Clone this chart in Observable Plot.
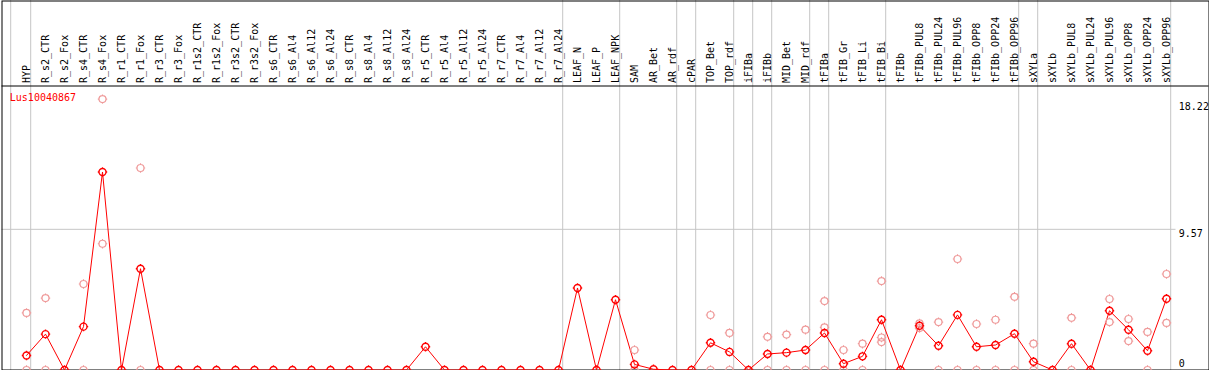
<!DOCTYPE html>
<html>
<head>
<meta charset="utf-8">
<script src="https://cdn.jsdelivr.net/npm/d3@7"></script>
<script src="https://cdn.jsdelivr.net/npm/@observablehq/plot@0.6"></script>
<style>
  html, body { margin: 0; padding: 0; background: white; }
</style>
</head>
<body>
<div id="chart"></div>
<script>
const geneId = "Lus10040867";

const categories = [
  "HYP","R_s2_CTR","R_s2_Fox","R_s4_CTR","R_s4_Fox","R_r1_CTR","R_r1_Fox","R_r3_CTR","R_r3_Fox",
  "R_r1s2_CTR","R_r1s2_Fox","R_r3s2_CTR","R_r3s2_Fox","R_s6_CTR","R_s6_Al4","R_s6_Al12","R_s6_Al24",
  "R_s8_CTR","R_s8_Al4","R_s8_Al12","R_s8_Al24","R_r5_CTR","R_r5_Al4","R_r5_Al12","R_r5_Al24",
  "R_r7_CTR","R_r7_Al4","R_r7_Al12","R_r7_Al24","LEAF_N","LEAF_P","LEAF_NPK","SAM","AR_Bet","AR_rdf",
  "cPAR","TOP_Bet","TOP_rdf","iFIBa","iFIBb","MID_Bet","MID_rdf","tFIBa","tFIB_Gr","tFIB_Li","tFIB_Bi",
  "tFIBb","tFIBb_PUL8","tFIBb_PUL24","tFIBb_PUL96","tFIBb_OPP8","tFIBb_OPP24","tFIBb_OPP96",
  "sXYLa","sXYLb","sXYLb_PUL8","sXYLb_PUL24","sXYLb_PUL96","sXYLb_OPP8","sXYLb_OPP24","sXYLb_OPP96"
];

// mean expression per sample
const meanValues = [
  0.99, 2.44, 0, 2.95, 13.47, 0, 6.89, 0, 0,
  0, 0, 0, 0, 0, 0, 0, 0,
  0, 0, 0, 0, 1.58, 0, 0, 0,
  0, 0, 0, 0, 5.58, 0, 4.78, 0.38, 0.05, 0,
  0, 1.85, 1.23, 0, 1.09, 1.18, 1.36, 2.52, 0.43, 0.93, 3.42,
  0, 3.01, 1.65, 3.75, 1.58, 1.70, 2.47,
  0.56, 0, 1.79, 0, 4.03, 2.74, 1.31, 4.85
];

// individual replicates (null = none shown)
const rep1 = [
  3.88, 4.89, null, 5.85, 18.43, null, 13.74, null, null,
  null, null, null, null, null, null, null, null,
  null, null, null, null, null, null, null, null,
  null, null, null, null, null, null, null, 1.36, null, null,
  null, 3.74, 2.52, null, 2.26, 2.41, 2.74, 4.69, 1.36, 1.79, 6.05,
  null, 3.17, 3.26, 7.55, 3.13, 3.42, 4.98,
  1.79, null, 3.55, null, 4.83, 3.47, 2.59, 6.53
];
const rep2 = [
  0, 0, null, 0, 8.59, null, 0, null, null,
  null, null, null, null, null, null, null, null,
  null, null, null, null, null, null, null, null,
  null, null, null, null, null, null, null, 0, null, null,
  null, 0, 0, null, 0, 0, 0, 2.90, 0, 0, 2.21,
  null, 2.85, 0, 0, 0, 0, 0,
  0, null, 0, null, 3.26, 1.97, 0, 3.20
];
const rep3 = [
  null, null, null, null, null, null, null, null, null,
  null, null, null, null, null, null, null, null,
  null, null, null, null, null, null, null, null,
  null, null, null, null, null, null, null, null, null, null,
  null, null, null, null, null, null, null, 0, null, null, 1.90,
  null, null, null, null, null, null, null,
  null, null, null, null, null, null, null, null
];

// group separators (drawn just right of these samples)
const groupEnds = ["HYP","R_r7_Al24","LEAF_NPK","AR_rdf","cPAR","TOP_rdf","iFIBa","iFIBb",
  "MID_rdf","tFIBa","tFIB_Bi","tFIBb_OPP96","sXYLa","sXYLb_OPP96"];
const leadingRule = ["HYP"];

const yTicksTop = [18.22, 9.57];
const yTicksBottom = [0];
const gridValues = [9.57];
const yMax = 19.32;

const rows = categories.map((c, i) => ({cat: c, mean: meanValues[i]}));
const reps = [];
categories.forEach((c, i) => {
  [rep1, rep2, rep3].forEach(r => { if (r[i] != null) reps.push({cat: c, v: r[i]}); });
});

const sun = {
  draw(ctx, size) {
    const r = Math.sqrt(size / Math.PI);
    ctx.moveTo(r, 0);
    ctx.arc(0, 0, r, 0, 2 * Math.PI);
    const t = 1.2;
    ctx.moveTo(r, 0); ctx.lineTo(r + t, 0);
    ctx.moveTo(-r, 0); ctx.lineTo(-r - t, 0);
    ctx.moveTo(0, r); ctx.lineTo(0, r + t);
    ctx.moveTo(0, -r); ctx.lineTo(0, -r - t);
  }
};

const gray = "#c6c6c6";
const mono = "DejaVu Sans Mono";

const chart = Plot.plot({
  width: 1209,
  height: 370,
  marginTop: 85.5,
  marginBottom: 0.5,
  marginLeft: 1.5,
  marginRight: 0.5,
  style: {background: "white", overflow: "visible"},
  x: {type: "point", domain: categories, range: [26.3, 1166.3], padding: 0, axis: null},
  y: {domain: [0, yMax], axis: null},
  marks: [
    Plot.ruleY(gridValues, {stroke: gray, insetRight: 33}),
    Plot.ruleX(groupEnds, {x: d => d, dx: 4.2, stroke: gray, insetTop: -85.5, insetBottom: -0.5}),
    Plot.ruleX(leadingRule, {x: d => d, dx: -15.8, stroke: gray, insetTop: -85.5, insetBottom: -0.5}),
    Plot.frame({stroke: "black", insetTop: -85}),
    Plot.ruleY([yMax], {stroke: "black"}),
    Plot.line(rows, {x: "cat", y: "mean", stroke: "#ff0000", strokeWidth: 1}),
    Plot.dot(reps, {x: "cat", y: "v", r: 3.5, symbol: sun, stroke: "#ef9a9a", strokeWidth: 1.2, fill: "none"}),
    Plot.dot(rows, {x: "cat", y: "mean", r: 3.5, symbol: sun, stroke: "#ff0000", strokeWidth: 1.4, fill: "none"}),
    Plot.text(categories, {x: d => d, frameAnchor: "top", dy: -3, rotate: -90, textAnchor: "start",
      lineAnchor: "middle", fontFamily: mono, fontSize: 10, fill: "black"}),
    Plot.text([geneId], {frameAnchor: "top-left", dx: 7.8, dy: 11.5, textAnchor: "start",
      lineAnchor: "middle", fontFamily: mono, fontSize: 10, fill: "#ff0000"}),
    Plot.text(yTicksTop, {y: d => d, text: d => String(d), frameAnchor: "right", dx: -30.2, dy: 0.5,
      textAnchor: "start", lineAnchor: "top", fontFamily: mono, fontSize: 10, fill: "black"}),
    Plot.text(yTicksBottom, {y: d => d, text: d => String(d), frameAnchor: "right", dx: -30.2, dy: -3,
      textAnchor: "start", lineAnchor: "bottom", fontFamily: mono, fontSize: 10, fill: "black"})
  ]
});
document.getElementById("chart").appendChild(chart);
</script>
</body>
</html>
